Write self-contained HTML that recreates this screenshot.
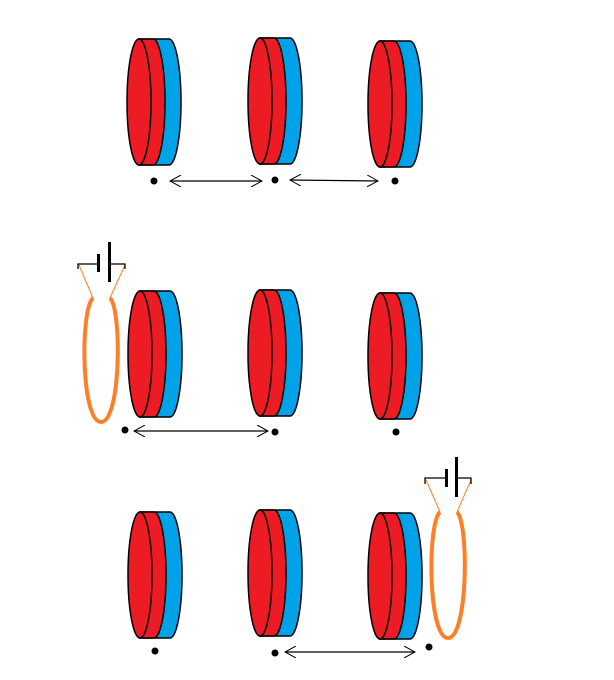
<!DOCTYPE html>
<html><head><style>body{margin:0;background:#fff}svg{display:block}</style></head><body>
<svg width="614" height="680" viewBox="0 0 614 680" xmlns="http://www.w3.org/2000/svg">
<defs>
<g id="mag" stroke="#000" stroke-width="1.5">
<path d="M12,0 H42 A12,63 0 0 1 42,126 H12 Z" fill="#00a2e8"/>
<path d="M12,0 H26 A12,63 0 0 1 26,126 H12 Z" fill="#ed1c24"/>
<ellipse cx="12" cy="63" rx="12" ry="63" fill="#ed1c24"/>
</g>
<marker id="ah" viewBox="0 0 12 12" refX="11" refY="6" markerWidth="12" markerHeight="12" orient="auto-start-reverse" markerUnits="userSpaceOnUse"><path d="M0,0 L11,6 L0,12" fill="none" stroke="#000" stroke-width="1"/></marker>
</defs>
<use href="#mag" x="127" y="39"/><use href="#mag" x="248" y="38"/><use href="#mag" x="368" y="41"/>
<use href="#mag" x="128" y="291"/><use href="#mag" x="248" y="290"/><use href="#mag" x="368" y="293"/>
<use href="#mag" x="128" y="512"/><use href="#mag" x="248" y="510"/><use href="#mag" x="368" y="513"/>
<g fill="#000">
<circle cx="154" cy="181" r="3.5"/><circle cx="275" cy="180" r="3.5"/><circle cx="395" cy="181" r="3.5"/>
<circle cx="125" cy="430" r="3.5"/><circle cx="275" cy="432" r="3.5"/><circle cx="396" cy="432" r="3.5"/>
<circle cx="155" cy="651" r="3.5"/><circle cx="275" cy="653" r="3.5"/><circle cx="429" cy="647" r="3.5"/>
</g>
<g stroke="#000" stroke-width="1.2" marker-start="url(#ah)" marker-end="url(#ah)">
<line x1="170" y1="181" x2="262" y2="181"/>
<line x1="290" y1="180" x2="378" y2="181"/>
<line x1="134" y1="431" x2="268" y2="431"/>
<line x1="285" y1="652" x2="415" y2="652"/>
</g>
<!-- coil 2 -->
<path d="M93,298 C80,310 81,422 101,422 C121,422 122,310 110,298" fill="none" stroke="#ff7f27" stroke-width="4"/>
<path d="M93,298 L79,265 M110,298 L125,265" stroke="#ff7f27" stroke-width="1"/>
<path d="M78,269 V264 H98 M110,264 H125 V269" stroke="#000" stroke-width="1.3" fill="none"/>
<rect x="97" y="254" width="3" height="18" fill="#000"/>
<rect x="108" y="242" width="3" height="40" fill="#000"/>
<!-- coil 3 -->
<path d="M440,512 C427,524 428,638 448,638 C468,638 469,524 457,512" fill="none" stroke="#ff7f27" stroke-width="4"/>
<path d="M440,512 L426,480 M457,512 L471,480" stroke="#ff7f27" stroke-width="1"/>
<path d="M425,484 V478 H446 M457,478 H471 V484" stroke="#000" stroke-width="1.3" fill="none"/>
<rect x="445" y="469" width="3" height="18" fill="#000"/>
<rect x="455" y="457" width="3" height="40" fill="#000"/>
</svg>
</body></html>
